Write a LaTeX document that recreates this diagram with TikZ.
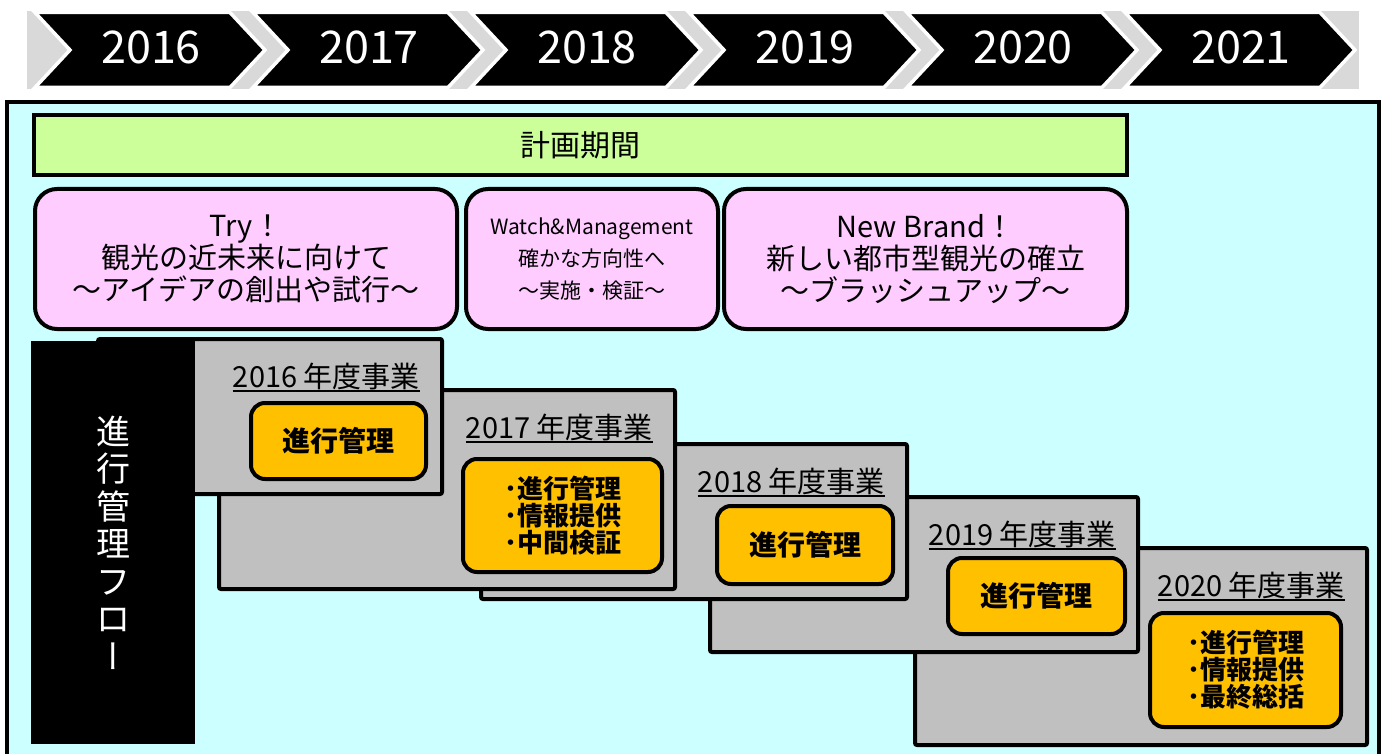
\documentclass[tikz,border=0pt]{standalone}
\usepackage{fontspec}
\setmainfont{Noto Sans CJK JP}
\usetikzlibrary{calc}
\definecolor{bandgray}{HTML}{D9D9D9}
\definecolor{panelcyan}{HTML}{CCFFFF}
\definecolor{plangreen}{HTML}{CCFF99}
\definecolor{phasepink}{HTML}{FFCCFF}
\definecolor{yeargray}{HTML}{C0C0C0}
\definecolor{taskorange}{HTML}{FFC000}
\begin{document}
\begin{tikzpicture}[x=1pt,y=-1pt,
  chev/.style={fill=black,draw=white,line width=3.5pt},
  yeartext/.style={text=white,font=\fontsize{45}{50}\selectfont,inner sep=0pt},
  planbar/.style={draw=black,line width=4pt,fill=plangreen,font=\fontsize{30}{34}\selectfont},
  phasebox/.style={draw=black,line width=4pt,fill=phasepink,rounded corners=22pt,align=center,minimum height=140pt,inner sep=0pt},
  yearbox/.style={draw=black,line width=4pt,fill=yeargray,rounded corners=2pt,inner sep=0pt},
  heading/.style={font=\fontsize{29}{32}\selectfont,inner sep=0pt,anchor=base east},
  uline/.style={line width=2pt},
  taskbox/.style={draw=black,line width=4pt,fill=taskorange,rounded corners=14pt,inner sep=0pt,align=left},
  tasksingle/.style={font=\bfseries\fontsize{28}{30}\selectfont},
  taskmulti/.style={font=\bfseries\fontsize{26}{27}\selectfont},
]
\useasboundingbox (0,0) rectangle (1386,754);
% year band
\fill[bandgray] (27,11) rectangle (1359,89);
\foreach \i/\yr in {0/2016,1/2017,2/2018,3/2019,4/2020,5/2021}{
  \pgfmathsetmacro\xo{35+218*\i}
  \draw[chev] (\xo,12.5) -- ++(195,0) -- ++(35,37.5) -- ++(-35,37.5) -- ++(-195,0) -- ++(35,-37.5) -- cycle;
  \node[yeartext] (y\yr) at (\xo+116,47) {\yr};
}
% main panel
\draw[line width=3.5pt,fill=panelcyan] (7,102) rectangle (1379,770);
\node[planbar,minimum width=1093pt,minimum height=60pt] (plan) at (580.5,145) {計画期間};
% phase boxes
\node[phasebox,minimum width=422pt,font=\fontsize{29}{32}\selectfont] (p1) at (246,259)
  {Try！\\観光の近未来に向けて\\～アイデアの創出や試行～};
\node[phasebox,minimum width=252pt,font=\fontsize{21}{32}\selectfont] (p2) at (592,259)
  {Watch\&Management\\確かな方向性へ\\～実施・検証～};
\node[phasebox,minimum width=403pt,font=\fontsize{29}{32}\selectfont] (p3) at (925.5,259)
  {New Brand！\\新しい都市型観光の確立\\～ブラッシュアップ～};
% year boxes (later years underneath)
\node[yearbox,minimum width=452pt,minimum height=197pt] (g2020) at (1141,646.5) {};
\node[heading] (h2020) at ($(g2020.north east)+(-24,50)$) {2020 年度事業};
\draw[uline] ([yshift=-3.5pt]h2020.base west) -- ([yshift=-3.5pt]h2020.base east);
\node[taskbox,taskmulti,minimum width=191pt,minimum height=114pt] (t2020) at (1245.5,670)
  {･進行管理\\･情報提供\\･最終総括};

\node[yearbox,minimum width=428pt,minimum height=155pt] (g2019) at (924,574.5) {};
\node[heading] (h2019) at ($(g2019.north east)+(-24,50)$) {2019 年度事業};
\draw[uline] ([yshift=-3.5pt]h2019.base west) -- ([yshift=-3.5pt]h2019.base east);
\node[taskbox,tasksingle,minimum width=177pt,minimum height=76pt] (t2019) at (1036.5,596) {進行管理};

\node[yearbox,minimum width=426pt,minimum height=155pt] (g2018) at (694,521.5) {};
\node[heading] (h2018) at ($(g2018.north east)+(-24,50)$) {2018 年度事業};
\draw[uline] ([yshift=-3.5pt]h2018.base west) -- ([yshift=-3.5pt]h2018.base east);
\node[taskbox,tasksingle,minimum width=176pt,minimum height=78pt] (t2018) at (805,545) {進行管理};

\node[yearbox,minimum width=456pt,minimum height=199pt] (g2017) at (447,489.5) {};
\node[heading] (h2017) at ($(g2017.north east)+(-24,50)$) {2017 年度事業};
\draw[uline] ([yshift=-3.5pt]h2017.base west) -- ([yshift=-3.5pt]h2017.base east);
\node[taskbox,taskmulti,minimum width=199pt,minimum height=113pt] (t2017) at (562.5,515.5)
  {･進行管理\\･情報提供\\･中間検証};

\node[yearbox,minimum width=344pt,minimum height=155pt] (g2016) at (270,416.5) {};
\node[heading] (h2016) at ($(g2016.north east)+(-24,50)$) {2016 年度事業};
\draw[uline] ([yshift=-3.5pt]h2016.base west) -- ([yshift=-3.5pt]h2016.base east);
\node[taskbox,tasksingle,minimum width=175pt,minimum height=76pt] (t2016) at (338.5,441) {進行管理};
% flow label
\node[fill=black,text=white,minimum width=164pt,minimum height=403pt,inner sep=0pt,align=center,
  font=\fontsize{34}{37.5}\selectfont] (flow) at (113,542.5)
  {進\\行\\管\\理\\フ\\ロ\\{\addfontfeature{RawFeature=+vert}ー}};
\end{tikzpicture}
\end{document}
